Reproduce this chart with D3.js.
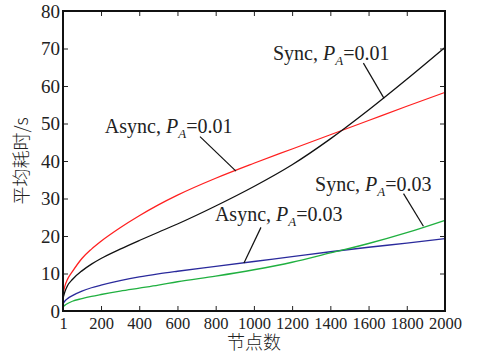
<html>
<head>
<script src="https://d3js.org/d3.v7.min.js"></script>
<style>
  body { margin: 0; background: #fff; }
</style>
</head>
<body>
<div id="chart"></div>
<script>
const nodes = [1, 10, 25, 50, 100, 150, 200, 300, 400, 500, 600, 800, 1000, 1200, 1400, 1600, 1800, 2000];

// average time (s) for each case
const asyncP01 = [4.5, 6.5, 8.5, 10.5, 14, 16.5, 18.6, 22.2, 25.4, 28.3, 30.9, 35.4, 39.4, 43.2, 47.0, 50.8, 54.6, 58.3];
const syncP01  = [3.4, 5, 6.8, 8.4, 10.7, 12.5, 14.0, 16.5, 18.8, 21.0, 23.2, 28.0, 33.2, 39.0, 45.9, 53.6, 61.8, 70.3];
const asyncP03 = [2.0, 2.6, 3.3, 4.1, 5.3, 6.2, 6.9, 8.1, 9.1, 9.9, 10.6, 11.9, 13.2, 14.5, 15.8, 17, 18.1, 19.3];
const syncP03  = [1.1, 1.5, 2.0, 2.6, 3.3, 3.9, 4.4, 5.3, 6.1, 6.9, 7.8, 9.3, 11, 13, 15.5, 18, 20.9, 24.2];

const xTicks = [1, 200, 400, 600, 800, 1000, 1200, 1400, 1600, 1800, 2000];
const yTicks = [0, 10, 20, 30, 40, 50, 60, 70, 80];

const seriesNames  = ["Async", "Sync", "Async", "Sync"];
const seriesPa     = ["0.01", "0.01", "0.03", "0.03"];
const seriesValues = [asyncP01, syncP01, asyncP03, syncP03];
const seriesColors = ["#ff2020", "#111111", "#2a2a9c", "#20b040"];

// label anchor (data units): text start, leader start, leader end on curve
const labelAt   = [[220, 47.4], [1100, 66.9], [796, 24.0], [1320, 32.0]];
const leaderTop = [[718, 46.5], [1573, 66.1], [1037, 22.3], [1783, 31.3]];
const leaderEnd = [[906, 37.3], [1681, 56.7], [948, 12.8], [1887, 22.6]];

const serif = "'Liberation Serif', 'DejaVu Serif', serif";

const margin = { top: 11, right: 38, bottom: 42, left: 63 },
  width = 483 - margin.left - margin.right,
  height = 353 - margin.top - margin.bottom;

const svg = d3.select("#chart")
  .append("svg")
  .attr("width", 483)
  .attr("height", 353)
  .append("g")
  .attr("transform", "translate(" + margin.left + "," + margin.top + ")");

const x = d3.scaleLinear().domain([1, 2000]).range([0, width]);
const y = d3.scaleLinear().domain([0, 80]).range([height, 0]);

// curves
const line = d3.line()
  .x((d, i) => x(nodes[i]))
  .y(d => y(d))
  .curve(d3.curveMonotoneX);

seriesValues.forEach((vals, k) => {
  svg.append("path")
    .attr("d", line(vals))
    .attr("fill", "none")
    .attr("stroke", seriesColors[k])
    .attr("stroke-width", 1.3);
});

// axes, ticks pointing inward on all four sides
function styleAxis(g) {
  g.select(".domain").remove();
  g.selectAll(".tick line").attr("stroke", "#222").attr("stroke-width", 1);
  g.selectAll("text").style("font-family", serif).attr("fill", "#222");
}

svg.append("g")
  .attr("transform", "translate(0," + height + ")")
  .call(d3.axisBottom(x).tickValues(xTicks).tickFormat(d3.format("d"))
    .tickSizeInner(-5).tickSizeOuter(0).tickPadding(6))
  .call(styleAxis)
  .selectAll("text").style("font-size", "16.5px");

svg.append("g")
  .call(d3.axisTop(x).tickValues(xTicks).tickSizeInner(-5).tickSizeOuter(0).tickFormat(""))
  .call(styleAxis);

svg.append("g")
  .call(d3.axisLeft(y).tickValues(yTicks).tickSizeInner(-5).tickSizeOuter(0).tickPadding(3))
  .call(styleAxis)
  .selectAll("text").style("font-size", "19px");

svg.append("g")
  .attr("transform", "translate(" + width + ",0)")
  .call(d3.axisRight(y).tickValues(yTicks).tickSizeInner(-5).tickSizeOuter(0).tickFormat(""))
  .call(styleAxis);

svg.append("rect")
  .attr("width", width)
  .attr("height", height)
  .attr("fill", "none")
  .attr("stroke", "#111")
  .attr("stroke-width", 2);

// annotations
seriesNames.forEach((name, k) => {
  svg.append("line")
    .attr("x1", x(leaderTop[k][0])).attr("y1", y(leaderTop[k][1]))
    .attr("x2", x(leaderEnd[k][0])).attr("y2", y(leaderEnd[k][1]))
    .attr("stroke", "#111").attr("stroke-width", 1.2);

  const t = svg.append("text")
    .attr("x", x(labelAt[k][0]))
    .attr("y", y(labelAt[k][1]))
    .attr("fill", "#222")
    .style("font-family", serif)
    .style("font-size", "20px");
  t.append("tspan").text(name + ", ");
  t.append("tspan").style("font-style", "italic").text("P");
  t.append("tspan").style("font-style", "italic").style("font-size", "13px").attr("dy", 5).text("A");
  t.append("tspan").attr("dy", -5).text("=" + seriesPa[k]);
});

// axis titles
svg.append("text")
  .attr("x", width / 2)
  .attr("y", height + 38)
  .attr("text-anchor", "middle")
  .attr("fill", "#222")
  .style("font-family", "'Noto Sans CJK SC', sans-serif")
  .style("font-size", "18px")
  .style("font-weight", 300)
  .text("节点数");

svg.append("text")
  .attr("transform", "translate(" + (-35) + "," + (height / 2) + ") rotate(-90)")
  .attr("text-anchor", "middle")
  .attr("fill", "#222")
  .style("font-family", "'Noto Sans CJK SC', sans-serif")
  .style("font-size", "18px")
  .style("font-weight", 300)
  .text("平均耗时/s");
</script>
</body>
</html>
